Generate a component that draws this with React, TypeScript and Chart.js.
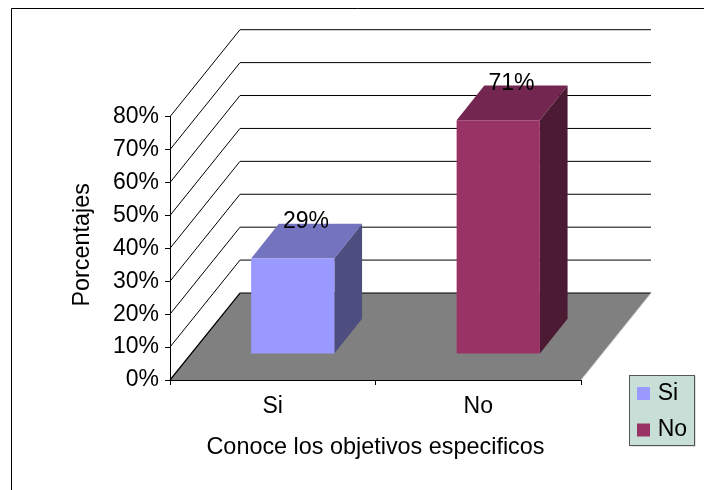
import React, { useEffect, useRef } from "react";
import { Chart, registerables } from "chart.js";

Chart.register(...registerables);

const categories = ["Si", "No"];
const percentages = [29, 71];
const frontColors = ["#9999FF", "#993366"];
const topColors = ["#7373BF", "#732650"];
const sideColors = ["#4D4D80", "#4D1A33"];
const yTickStep = 10;
const yMax = 80;

const FONT = "'Liberation Sans', Arial, sans-serif";
const FONT_SIZE = 23;
const TITLE_FONT_SIZE = 23.4;

// Projection of the depth axis, in pixels
const WALL_DX = 70;
const WALL_DY = -87;
const BAR_OFFSET_X = 20;
const BAR_OFFSET_Y = -26;
const BAR_DEPTH_X = 27.7;
const BAR_DEPTH_Y = -34.7;

// Walls, floor and outer frame behind the columns
const stagePlugin = {
  id: "stage",
  beforeDraw(chart: any) {
    const { ctx } = chart;
    ctx.save();
    ctx.fillStyle = "#FFFFFF";
    ctx.fillRect(0, 0, chart.width, chart.height);
    ctx.strokeStyle = "#000000";
    ctx.lineWidth = 1;
    ctx.beginPath();
    ctx.moveTo(11.5, chart.height);
    ctx.lineTo(11.5, 8.5);
    ctx.lineTo(chart.width, 8.5);
    ctx.stroke();

    // Legend panel
    ctx.fillStyle = "rgba(0,0,0,0.25)";
    ctx.fillRect(630.5, 376.5, 65, 70);
    ctx.fillStyle = "#C7DFD6";
    ctx.strokeStyle = "#555555";
    ctx.fillRect(629.5, 375.5, 65, 70);
    ctx.strokeRect(629.5, 375.5, 65, 70);
    ctx.restore();

    const legend = chart.legend;
    const pad = legend.options.labels.padding;
    legend.left = 640.8 - pad;
    legend.right = chart.width;
    legend.top = 393.5 - FONT_SIZE / 2 - pad;
    legend.bottom = chart.height;
  },
  beforeDatasetsDraw(chart: any) {
    const { ctx, chartArea, scales } = chart;
    const y = scales.y;
    const left = chartArea.left;
    const right = chartArea.right;
    const zero = y.getPixelForValue(0);

    ctx.save();
    ctx.strokeStyle = "#000000";
    ctx.lineWidth = 1;
    y.ticks.forEach((t: any) => {
      if (t.value === 0) return;
      const py = y.getPixelForValue(t.value);
      ctx.beginPath();
      ctx.moveTo(left, py);
      ctx.lineTo(left + WALL_DX, py + WALL_DY);
      ctx.lineTo(right + WALL_DX, py + WALL_DY);
      ctx.stroke();
    });

    ctx.fillStyle = "#808080";
    ctx.beginPath();
    ctx.moveTo(left, zero);
    ctx.lineTo(right, zero);
    ctx.lineTo(right + WALL_DX, zero + WALL_DY);
    ctx.lineTo(left + WALL_DX, zero + WALL_DY);
    ctx.closePath();
    ctx.fill();

    ctx.strokeStyle = "#000000";
    ctx.lineWidth = 1.2;
    ctx.beginPath();
    ctx.moveTo(left, zero);
    ctx.lineTo(left + WALL_DX, zero + WALL_DY);
    ctx.lineTo(right + WALL_DX, zero + WALL_DY);
    ctx.stroke();
    ctx.strokeStyle = "#C8C8C8";
    ctx.lineWidth = 1;
    ctx.beginPath();
    ctx.moveTo(right + WALL_DX, zero + WALL_DY);
    ctx.lineTo(right, zero);
    ctx.stroke();
    ctx.strokeStyle = "#000000";
    ctx.beginPath();
    ctx.moveTo(left, zero + 0.5);
    ctx.lineTo(right, zero + 0.5);
    ctx.stroke();
    ctx.restore();
  },
  // Side and top faces come first; the library then paints the front face on top
  beforeDatasetDraw(chart: any, args: any) {
    const { ctx } = chart;
    ctx.save();
    ctx.translate(BAR_OFFSET_X, BAR_OFFSET_Y);
    args.meta.data.forEach((bar: any, i: number) => {
      const p = bar.getProps(["x", "y", "base", "width"], true);
      const l = p.x - p.width / 2;
      const r = p.x + p.width / 2;
      ctx.fillStyle = topColors[i];
      ctx.beginPath();
      ctx.moveTo(l, p.y);
      ctx.lineTo(r, p.y);
      ctx.lineTo(r + BAR_DEPTH_X, p.y + BAR_DEPTH_Y);
      ctx.lineTo(l + BAR_DEPTH_X, p.y + BAR_DEPTH_Y);
      ctx.closePath();
      ctx.fill();
      ctx.fillStyle = sideColors[i];
      ctx.beginPath();
      ctx.moveTo(r, p.y);
      ctx.lineTo(r + BAR_DEPTH_X, p.y + BAR_DEPTH_Y);
      ctx.lineTo(r + BAR_DEPTH_X, p.base + BAR_DEPTH_Y);
      ctx.lineTo(r, p.base);
      ctx.closePath();
      ctx.fill();
    });
  },
  afterDatasetDraw(chart: any, args: any) {
    const { ctx } = chart;
    ctx.fillStyle = "#000000";
    ctx.font = `${FONT_SIZE}px ${FONT}`;
    ctx.textAlign = "center";
    ctx.textBaseline = "middle";
    args.meta.data.forEach((bar: any, i: number) => {
      const p = bar.getProps(["x", "y"], true);
      ctx.fillText(`${percentages[i]}%`, p.x + 13.3, p.y - 37);
    });
    ctx.restore();
  },
};

// The vertical axis title sits a little above the middle of the axis
function liftTitle(scale: any) {
  if (scale.titleLifted) return;
  scale.titleLifted = true;
  const drawTitle = scale.drawTitle;
  scale.drawTitle = function () {
    this.ctx.save();
    this.ctx.translate(0, -3.5);
    drawTitle.call(this);
    this.ctx.restore();
  };
}

export default function App() {
  const canvasRef = useRef<HTMLCanvasElement>(null);

  useEffect(() => {
    const chart = new Chart(canvasRef.current as HTMLCanvasElement, {
      type: "bar",
      plugins: [stagePlugin],
      data: {
        labels: categories,
        datasets: [
          {
            data: percentages,
            backgroundColor: frontColors,
            borderWidth: 0,
            barPercentage: 0.405,
            categoryPercentage: 1,
            clip: false,
          } as any,
        ],
      },
      options: {
        responsive: false,
        animation: false,
        color: "#000000",
        font: { family: FONT, size: FONT_SIZE },
        layout: { padding: { top: 116.7, right: 123, left: 0, bottom: 0 } },
        plugins: {
          tooltip: { enabled: false },
          title: { display: false },
          legend: {
            display: true,
            position: "chartArea" as any,
            align: "start",
            labels: {
              usePointStyle: true,
              boxWidth: 5.4,
              boxHeight: 13,
              padding: 13.5,
              color: "#000000",
              font: { family: FONT, size: FONT_SIZE },
              generateLabels: () =>
                categories.map((text, i) => ({
                  text,
                  fillStyle: frontColors[i],
                  strokeStyle: frontColors[i],
                  pointStyle: "rect",
                  lineWidth: 0,
                  hidden: false,
                  index: i,
                })),
            },
          },
        },
        scales: {
          x: {
            type: "category",
            afterFit: (s: any) => {
              s.height = 110;
            },
            border: { display: true, color: "#000000", width: 1 },
            grid: {
              display: true,
              drawOnChartArea: false,
              drawTicks: true,
              tickLength: 5,
              offset: true,
              color: "#000000",
            },
            ticks: {
              color: "#000000",
              padding: 8,
              maxRotation: 0,
              font: { family: FONT, size: FONT_SIZE },
            },
            title: {
              display: true,
              text: "Conoce los objetivos especificos",
              color: "#000000",
              font: { family: FONT, size: TITLE_FONT_SIZE },
              padding: { top: 10, bottom: 28 },
            },
          },
          y: {
            type: "linear",
            min: 0,
            max: yMax,
            afterFit: (s: any) => {
              s.width = 170;
              liftTitle(s);
            },
            border: { display: true, color: "#000000", width: 1 },
            grid: {
              display: true,
              drawOnChartArea: false,
              drawTicks: true,
              tickLength: 5,
              color: "#000000",
            },
            ticks: {
              stepSize: yTickStep,
              padding: 6,
              color: "#000000",
              font: { family: FONT, size: FONT_SIZE },
              callback: (v: any) => `${v}%`,
            },
            title: {
              display: true,
              text: "Porcentajes",
              color: "#000000",
              font: { family: FONT, size: TITLE_FONT_SIZE },
              padding: { top: 68.5, bottom: 4 },
            },
          },
        },
      } as any,
    });
    return () => chart.destroy();
  }, []);

  return (
    <div style={{ position: "fixed", left: 0, top: 0, width: 704, height: 490, background: "#fff" }}>
      <canvas ref={canvasRef} width={704} height={490} style={{ display: "block" }} />
    </div>
  );
}
